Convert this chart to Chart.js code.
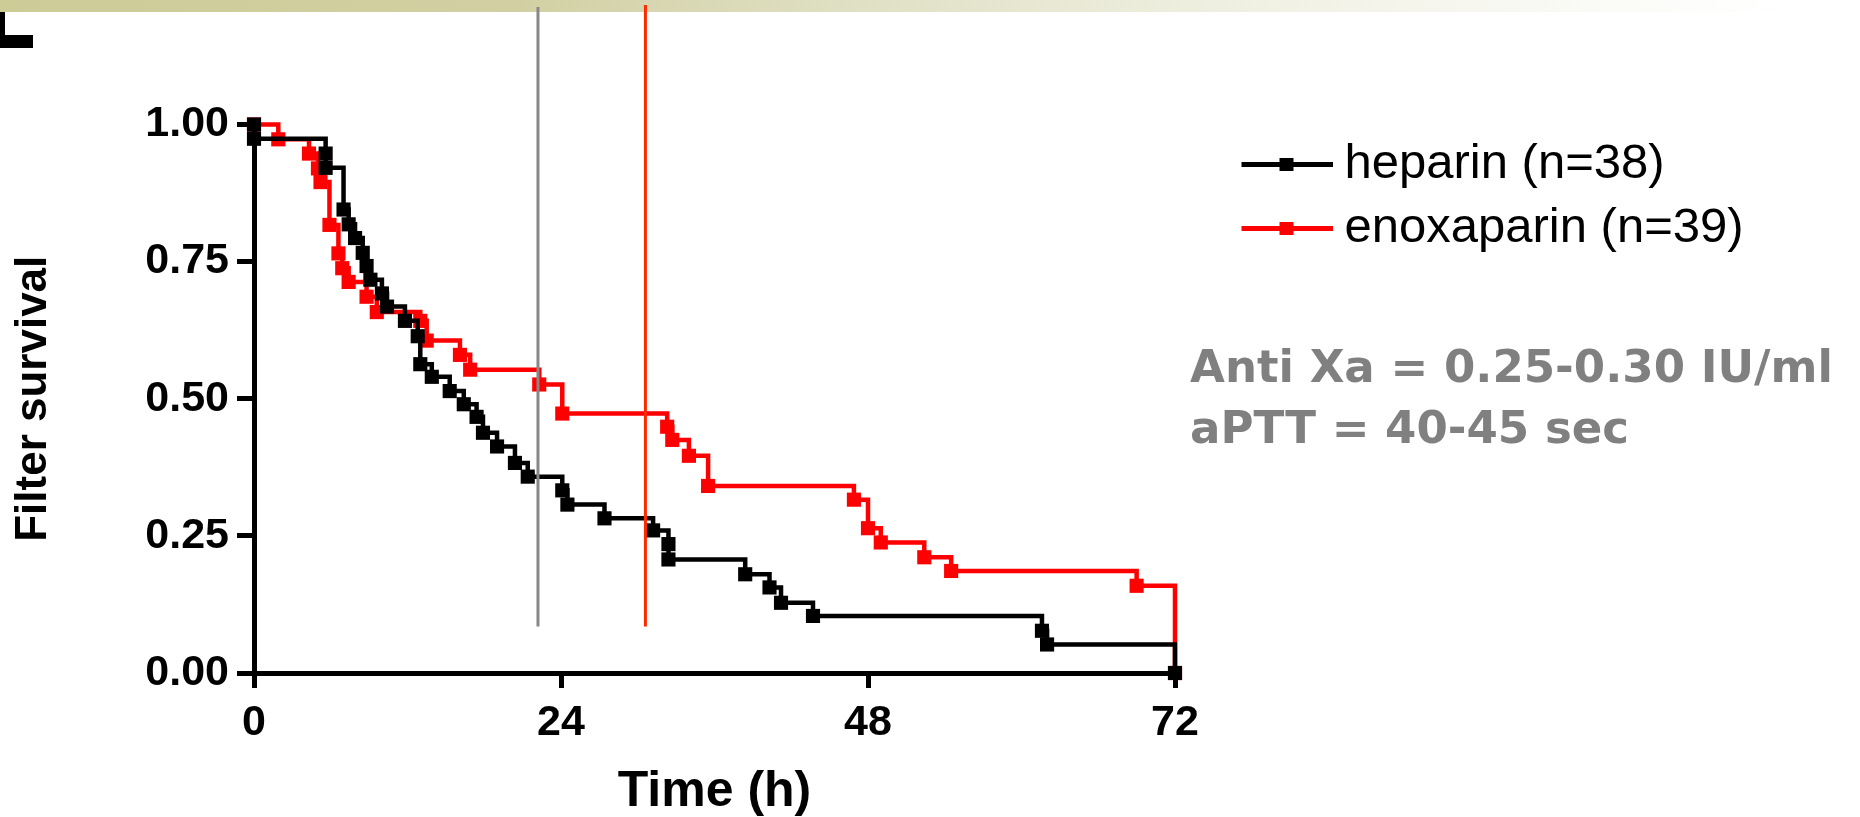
<!DOCTYPE html>
<html>
<head>
<meta charset="utf-8">
<title>Filter survival</title>
<script src="https://cdn.jsdelivr.net/npm/chart.js@4.4.0/dist/chart.umd.min.js"></script>
<style>
  html, body { margin:0; padding:0; background:#fff; }
  canvas { display:block; }
</style>
</head>
<body>
<canvas id="kmChart" width="1860" height="817"></canvas>
<script>
// Kaplan-Meier steps: time (h) and survival after each drop
const heparinTime = [0, 0, 5.6, 5.6, 7.0, 7.4, 7.9, 8.5, 8.8, 9.1, 10.0, 10.4, 11.8, 12.8, 13.0, 13.9, 15.3, 16.4, 17.4, 17.9, 19.0, 20.4, 21.4, 24.1, 24.5, 27.4, 31.2, 32.4, 32.4, 38.4, 40.3, 41.2, 43.7, 61.6, 62.0, 72];
const heparinSurv = [1.0, 0.974, 0.947, 0.921, 0.845, 0.818, 0.793, 0.766, 0.742, 0.717, 0.692, 0.668, 0.642, 0.614, 0.563, 0.540, 0.514, 0.490, 0.467, 0.438, 0.413, 0.383, 0.358, 0.333, 0.307, 0.282, 0.260, 0.235, 0.207, 0.180, 0.156, 0.128, 0.104, 0.077, 0.052, 0];
const enoxTime = [0, 1.9, 4.3, 5.0, 5.2, 5.9, 6.6, 6.9, 7.4, 8.8, 9.6, 13.0, 13.5, 16.1, 16.9, 22.3, 24.1, 32.3, 32.7, 34.0, 35.5, 46.9, 48.0, 49.0, 52.4, 54.5, 69.0, 72];
const enoxSurv = [1.0, 0.973, 0.947, 0.920, 0.895, 0.817, 0.765, 0.738, 0.713, 0.686, 0.658, 0.642, 0.606, 0.580, 0.553, 0.526, 0.473, 0.449, 0.425, 0.396, 0.341, 0.316, 0.264, 0.238, 0.211, 0.186, 0.159, 0];

const seriesLabels = ['heparin (n=38)', 'enoxaparin (n=39)'];
const seriesColors = ['#000000', '#ff0000'];
const xTicks = [0, 24, 48, 72];
const yTicks = [0, 0.25, 0.5, 0.75, 1];

// vertical marker lines (time in h)
const refLineTimes = [22.2, 30.6];
const refLineColors = ['#888888', '#ff2a00'];
const refLineBottom = 0.085;

const noteLines = ['Anti Xa = 0.25-0.30 IU/ml', 'aPTT = 40-45 sec'];

const toPoints = (t, s) => t.map((v, i) => ({ x: v, y: s[i] }));

// legend swatch: line with a square in the middle; empty left part pushes it right
function legendIcon(color) {
  const c = document.createElement('canvas');
  c.width = 155; c.height = 16;
  const g = c.getContext('2d');
  g.fillStyle = color;
  g.fillRect(64, 6, 91, 5);
  g.fillRect(102, 2, 14, 13);
  return c;
}
const icons = seriesColors.map(legendIcon);

// header band + corner mark behind the plot
const decor = {
  id: 'decor',
  beforeInit(chart) {
    const fit = chart.legend.fit;
    chart.legend.fit = function () { fit.call(this); this.width = 685; };
  },
  beforeDraw(chart) {
    const ctx = chart.ctx;
    ctx.save();
    const g = ctx.createLinearGradient(0, 0, 1860, 0);
    g.addColorStop(0, '#cdcb96');
    g.addColorStop(0.28, '#d2d0a3');
    g.addColorStop(0.45, '#dfdfc3');
    g.addColorStop(0.64, '#eeeedf');
    g.addColorStop(0.83, '#f9f9f4');
    g.addColorStop(0.96, '#ffffff');
    ctx.fillStyle = g;
    ctx.fillRect(0, 0, 1860, 12);
    ctx.fillStyle = '#000';
    ctx.fillRect(0, 12, 5, 36);
    ctx.fillRect(0, 35, 33, 13);
    ctx.restore();
  },
  afterDatasetsDraw(chart) {
    const { ctx, scales: { x, y } } = chart;
    ctx.save();
    ctx.lineWidth = 3;
    refLineTimes.forEach((t, i) => {
      const px = x.getPixelForValue(t);
      ctx.strokeStyle = refLineColors[i];
      ctx.beginPath();
      ctx.moveTo(px, i === 0 ? 7 : 5);
      ctx.lineTo(px, y.getPixelForValue(refLineBottom));
      ctx.stroke();
    });
    ctx.restore();
  },
  afterDraw(chart) {
    const ctx = chart.ctx;
    ctx.save();
    ctx.font = 'bold 40px "DejaVu Sans"';
    const size = 40 * 643 / ctx.measureText(noteLines[0]).width;
    ctx.font = 'bold ' + size + 'px "DejaVu Sans"';
    ctx.fillStyle = '#808080';
    ctx.textAlign = 'left';
    ctx.textBaseline = 'middle';
    ctx.fillText(noteLines[0], 1190, 370);
    ctx.fillText(noteLines[1], 1190, 431);
    ctx.restore();
  }
};

const lineSet = (label, pts, color) => ({
  label, data: pts,
  borderColor: color, backgroundColor: color,
  borderWidth: 4.5, stepped: 'before', fill: false, clip: false,
  pointStyle: 'rect', pointRadius: 10, pointHoverRadius: 10,
  pointBackgroundColor: color, pointBorderColor: color, pointBorderWidth: 0
});

const axisFont = { family: '"Liberation Sans", Arial, sans-serif', weight: 'bold' };

new Chart(document.getElementById('kmChart').getContext('2d'), {
  type: 'line',
  data: {
    datasets: [
      lineSet(seriesLabels[0], toPoints(heparinTime, heparinSurv), seriesColors[0]),
      lineSet(seriesLabels[1], toPoints(enoxTime, enoxSurv), seriesColors[1])
    ]
  },
  options: {
    responsive: false,
    animation: false,
    devicePixelRatio: 1,
    layout: { padding: { top: 124.5, left: 0, right: 0, bottom: 0 } },
    plugins: {
      tooltip: { enabled: false },
      legend: {
        position: 'right',
        align: 'start',
        labels: {
          usePointStyle: true,
          pointStyleWidth: 130,
          padding: 15,
          color: '#000',
          font: { family: '"Liberation Sans", Arial, sans-serif', size: 49 },
          generateLabels: chart => chart.data.datasets.map((d, i) => ({
            text: d.label, pointStyle: icons[i], fillStyle: d.borderColor,
            strokeStyle: d.borderColor, lineWidth: 0, hidden: false, datasetIndex: i
          }))
        }
      }
    },
    scales: {
      x: {
        type: 'linear', min: 0, max: 72,
        afterBuildTicks: s => { s.ticks = xTicks.map(v => ({ value: v })); },
        afterFit: s => { s.height = 144; },
        border: { display: true, color: '#000', width: 5 },
        grid: { drawOnChartArea: false, drawTicks: true, tickLength: 15, tickWidth: 5, tickColor: '#000', color: '#000', lineWidth: 5 },
        ticks: { color: '#000', padding: 9, font: { ...axisFont, size: 43 }, maxRotation: 0 },
        title: { display: true, text: 'Time (h)', color: '#000', padding: { top: 0, bottom: 0 },
                 font: { ...axisFont, size: 50, lineHeight: 1 } }
      },
      y: {
        min: 0, max: 1,
        afterBuildTicks: s => { s.ticks = yTicks.map(v => ({ value: v })); },
        afterFit: s => { s.width = 254; },
        border: { display: true, color: '#000', width: 5 },
        grid: { drawOnChartArea: false, drawTicks: true, tickLength: 17, tickWidth: 5, tickColor: '#000', color: '#000', lineWidth: 5 },
        ticks: { color: '#000', padding: 8, font: { ...axisFont, size: 43 }, callback: v => v.toFixed(2) },
        title: { display: true, text: 'Filter survival', color: '#000', padding: { top: 7.6, bottom: 0 },
                 font: { ...axisFont, size: 44 } }
      }
    }
  },
  plugins: [decor]
});
</script>
</body>
</html>
